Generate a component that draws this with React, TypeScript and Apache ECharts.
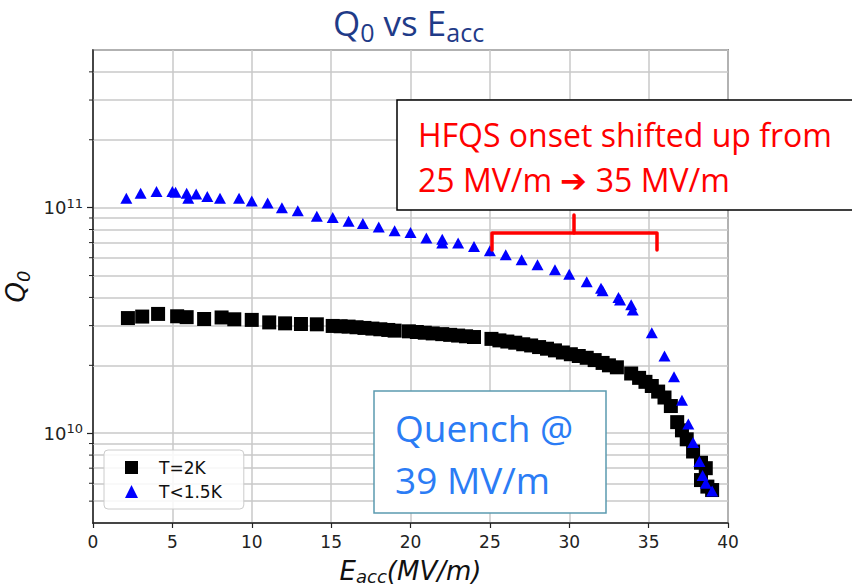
import React, { useEffect, useRef } from "react";
import * as echarts from "echarts";

// T = 2K (black squares)
const eacc2K = [2.2, 3.1, 4.1, 5.3, 5.9, 7.0, 8.1, 8.9, 10.0, 11.1, 12.1, 13.1, 14.1, 15.1, 15.6, 16.1, 16.6, 17.1, 17.6, 18.1, 18.6, 19.0, 19.9, 20.4, 20.9, 21.4, 22.0, 22.5, 23.0, 23.5, 24.0, 25.1, 25.6, 26.1, 26.6, 27.1, 27.6, 28.1, 28.6, 29.1, 29.6, 30.1, 30.6, 31.1, 31.6, 32.1, 32.5, 33.0, 33.9, 34.4, 34.8, 35.2, 35.6, 36.0, 36.4, 36.8, 37.1, 37.4, 37.8, 38.3, 38.6, 38.3, 38.7, 39.0];
const q2K = [3.24e10, 3.29e10, 3.38e10, 3.3e10, 3.27e10, 3.21e10, 3.26e10, 3.2e10, 3.18e10, 3.1e10, 3.07e10, 3.05e10, 3.04e10, 2.99e10, 2.98e10, 2.97e10, 2.95e10, 2.93e10, 2.91e10, 2.89e10, 2.87e10, 2.85e10, 2.83e10, 2.81e10, 2.79e10, 2.77e10, 2.75e10, 2.73e10, 2.71e10, 2.69e10, 2.67e10, 2.62e10, 2.58e10, 2.55e10, 2.52e10, 2.48e10, 2.45e10, 2.41e10, 2.37e10, 2.33e10, 2.28e10, 2.24e10, 2.2e10, 2.16e10, 2.11e10, 2.05e10, 2.0e10, 1.96e10, 1.84e10, 1.76e10, 1.69e10, 1.62e10, 1.53e10, 1.44e10, 1.32e10, 1.12e10, 1.03e10, 9.4e9, 8.3e9, 7.4e9, 7.0e9, 6.2e9, 5.8e9, 5.6e9];

// T < 1.5K (blue triangles)
const eacc15K = [2.1, 3.0, 4.0, 5.0, 5.2, 5.9, 6.0, 6.5, 7.2, 8.0, 9.2, 10.0, 11.0, 11.9, 12.9, 14.1, 15.1, 16.1, 17.0, 18.0, 19.0, 20.0, 21.0, 22.0, 22.0, 23.0, 24.0, 25.0, 26.0, 27.0, 28.0, 29.1, 30.0, 31.1, 32.0, 32.1, 33.1, 33.2, 33.9, 34.0, 35.2, 36.0, 36.6, 37.1, 37.5, 37.8, 38.2, 38.4, 38.6, 39.0];
const q15K = [1.1e11, 1.16e11, 1.18e11, 1.18e11, 1.17e11, 1.16e11, 1.1e11, 1.15e11, 1.12e11, 1.1e11, 1.1e11, 1.07e11, 1.05e11, 1.0e11, 9.7e10, 9.15e10, 9.05e10, 8.7e10, 8.5e10, 8.2e10, 7.9e10, 7.77e10, 7.33e10, 7.25e10, 6.97e10, 6.97e10, 6.73e10, 6.44e10, 6.18e10, 5.87e10, 5.58e10, 5.3e10, 5.07e10, 4.7e10, 4.39e10, 4.28e10, 4.0e10, 3.9e10, 3.71e10, 3.52e10, 2.79e10, 2.2e10, 1.78e10, 1.4e10, 1.1e10, 9.1e9, 7.5e9, 6.5e9, 6.0e9, 5.55e9];

// Axis ranges and minor grid values of the log axis
const xTicks = { min: 0, max: 40, interval: 5 };
const yRange = { min: 4e9, max: 5e11 };
const minorGridValues = [5e9, 6e9, 7e9, 8e9, 9e9, 2e10, 3e10, 4e10, 5e10, 6e10, 7e10, 8e10, 9e10, 2e11, 3e11, 4e11];

const seriesNames = ["T=2K", "T<1.5K"];

export default function App() {
  const ref = useRef<HTMLDivElement>(null);
  useEffect(() => {
    if (!ref.current) return;
    const chart = echarts.init(ref.current, null, { renderer: "svg" });
    const tickFont = "DejaVu Sans";
    const calibri = "Open Sans";
    const baseGraphic: any[] = [
      {
        type: "rect",
        z: 100,
        shape: { x: 397, y: 100, width: 470, height: 110 },
        style: { fill: "#fff", stroke: "#000", lineWidth: 1.5 },
      },
      {
        type: "text",
        z: 101,
        style: { text: "HFQS onset shifted up from", x: 418, y: 134, fill: "#ff0000", font: `32px "${calibri}"`, verticalAlign: "middle" },
      },
      {
        type: "text",
        z: 101,
        style: { text: "25 MV/m ➔ 35 MV/m", x: 418, y: 179, fill: "#ff0000", font: `32px "${calibri}"`, verticalAlign: "middle" },
      },
      {
        type: "polyline",
        z: 101,
        shape: { points: [[492, 250], [492, 233], [657, 233], [657, 250]] },
        style: { stroke: "#ff0000", lineWidth: 3.5, fill: "none", lineJoin: "round", lineCap: "round" },
      },
      {
        type: "line",
        z: 101,
        shape: { x1: 574, y1: 233, x2: 574, y2: 215 },
        style: { stroke: "#ff0000", lineWidth: 3.5, lineCap: "round" },
      },
      {
        type: "rect",
        z: 100,
        shape: { x: 374, y: 391, width: 232, height: 122 },
        style: { fill: "#fff", stroke: "#5b9bb0", lineWidth: 1.5 },
      },
      {
        type: "text",
        z: 101,
        style: { text: "Quench @", x: 395, y: 427, fill: "#2b7cf5", font: `37px "${calibri}"`, verticalAlign: "middle" },
      },
      {
        type: "text",
        z: 101,
        style: { text: "39 MV/m", x: 395, y: 479, fill: "#2b7cf5", font: `37px "${calibri}"`, verticalAlign: "middle" },
      },
    ];
    chart.setOption({
      animation: false,
      title: {
        text: "{m|Q}{s|0}{m| vs E}{s|acc}",
        left: 333,
        top: 0,
        padding: 0,
        textStyle: {
          fontWeight: "normal",
          rich: {
            m: { fontFamily: calibri, fontWeight: "normal", fontSize: 35, color: "#1f3b88", lineHeight: 44, verticalAlign: "middle" },
            s: { fontFamily: calibri, fontWeight: "normal", fontSize: 25, color: "#1f3b88", lineHeight: 24, verticalAlign: "bottom" },
          },
        },
      },
      grid: {
        left: 93,
        right: 124,
        top: 50,
        bottom: 64,
        containLabel: false,
        outerBoundsMode: "none",
        show: true,
        borderColor: "#444",
        borderWidth: 1.5,
        backgroundColor: "transparent",
      },
      legend: {
        orient: "vertical",
        left: 104,
        top: 450,
        padding: [9, 22, 9, 21],
        itemGap: 7,
        itemWidth: 13,
        itemHeight: 13,
        borderColor: "#ccc",
        borderWidth: 1,
        borderRadius: 4,
        backgroundColor: "rgba(255,255,255,0.85)",
        textStyle: { fontFamily: tickFont, fontSize: 17, color: "#111", padding: [0, 0, 0, 16] },
        data: [
          { name: seriesNames[0], icon: "rect", itemStyle: { color: "#000" } },
          { name: seriesNames[1], icon: "triangle", itemStyle: { color: "#0000ff" } },
        ],
      },
      xAxis: {
        type: "value",
        min: xTicks.min,
        max: xTicks.max,
        interval: xTicks.interval,
        name: "{e|E}{s|acc}{e|(MV/m)}",
        nameLocation: "middle",
        nameGap: 34,
        nameTextStyle: {
          rich: {
            e: { fontFamily: tickFont, fontStyle: "italic", fontSize: 26, color: "#111", lineHeight: 28, verticalAlign: "middle" },
            s: { fontFamily: tickFont, fontStyle: "italic", fontSize: 18, color: "#111", lineHeight: 18, verticalAlign: "bottom" },
          },
        },
        axisLine: { show: true, lineStyle: { color: "#222", width: 1.5 } },
        axisTick: { show: true, length: 5, lineStyle: { color: "#222", width: 1.2 } },
        axisLabel: { fontFamily: tickFont, fontSize: 17, color: "#222", margin: 10 },
        splitLine: { show: true, lineStyle: { color: "#c8c8c8", width: 1.5 } },
      },
      yAxis: {
        type: "log",
        logBase: 10,
        min: yRange.min,
        max: yRange.max,
        name: "{q|Q}{s|0}",
        nameLocation: "middle",
        nameGap: 46,
        nameTextStyle: {
          rich: {
            q: { fontFamily: tickFont, fontStyle: "italic", fontSize: 26, color: "#111", lineHeight: 34, verticalAlign: "middle" },
            s: { fontFamily: tickFont, fontStyle: "italic", fontSize: 18, color: "#111", lineHeight: 20, verticalAlign: "bottom" },
          },
        },
        axisLine: { show: true, lineStyle: { color: "#222", width: 1.5 } },
        axisTick: { show: true, length: 6, lineStyle: { color: "#222", width: 1.2 } },
        axisLabel: {
          showMinLabel: false,
          showMaxLabel: false,
          margin: 10,
          fontFamily: tickFont,
          fontSize: 18,
          color: "#222",
          formatter: (v: number) => {
            const l = Math.log10(v);
            if (Math.abs(l - Math.round(l)) < 1e-6) return `{b|10}{s|${Math.round(l)}}`;
            return "";
          },
          rich: {
            b: { fontFamily: tickFont, fontSize: 18, color: "#222", lineHeight: 22, verticalAlign: "middle" },
            s: { fontFamily: tickFont, fontSize: 13, color: "#222", lineHeight: 12, verticalAlign: "top" },
          },
        },
        splitLine: { show: true, lineStyle: { color: "#c8c8c8", width: 1.5 } },
      },
      series: [
        {
          name: seriesNames[0],
          type: "scatter",
          symbol: "rect",
          symbolSize: 14,
          z: 3,
          itemStyle: { color: "#000", opacity: 1 },
          data: eacc2K.map((e, i) => [e, q2K[i]]),
          markLine: {
            silent: true,
            z: 1,
            symbol: "none",
            label: { show: false },
            lineStyle: { color: "#c8c8c8", width: 1.5, type: "solid" },
            emphasis: { disabled: true },
            data: minorGridValues.map((v) => ({ yAxis: v })),
          },
        },
        {
          name: seriesNames[1],
          type: "scatter",
          symbol: "triangle",
          symbolSize: [12, 11],
          z: 4,
          itemStyle: { color: "#0000ff", opacity: 1 },
          data: eacc15K.map((e, i) => [e, q15K[i]]),
        },
      ],
      graphic: baseGraphic,
    });
    // minor ticks of the log axis, placed through the axis' own scale
    const x0 = chart.convertToPixel({ xAxisIndex: 0 }, xTicks.min) as number;
    const minorTicks = minorGridValues.map((v) => {
      const y = chart.convertToPixel({ yAxisIndex: 0 }, v) as number;
      return {
        type: "line",
        z: 50,
        silent: true,
        shape: { x1: x0 - 4, y1: y, x2: x0 + 1, y2: y },
        style: { stroke: "#222", lineWidth: 1 },
      };
    });
    chart.setOption({ graphic: [...baseGraphic, ...minorTicks] });
    return () => chart.dispose();
  }, []);
  return <div ref={ref} style={{ width: 852, height: 587, position: "absolute", left: 0, top: 0, background: "#fff" }} />;
}
